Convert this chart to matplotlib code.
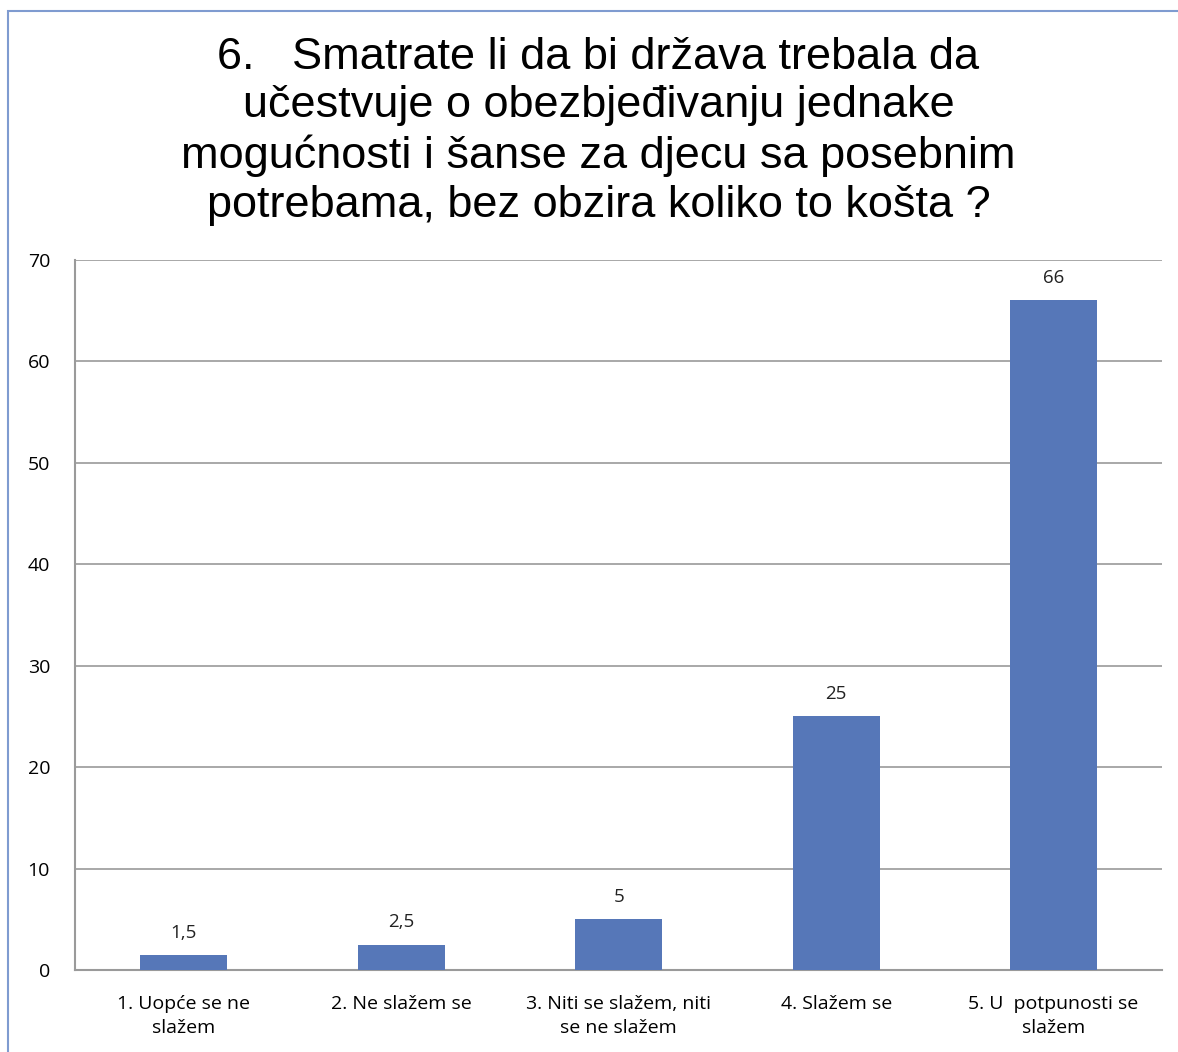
import numpy as np
import matplotlib.pyplot as plt
from matplotlib.patches import Rectangle

# survey answers (percent)
categories = ['1. Uopće se ne\nslažem', '2. Ne slažem se', '3. Niti se slažem, niti\nse ne slažem',
              '4. Slažem se', '5. U  potpunosti se\nslažem']
values = [1.5, 2.5, 5, 25, 66]
value_labels = ['1,5', '2,5', '5', '25', '66']
title = ('6.   Smatrate li da bi država trebala da\nučestvuje o obezbjeđivanju jednake\n'
         'mogućnosti i šanse za djecu sa posebnim\npotrebama, bez obzira koliko to košta ?')

fig = plt.figure(figsize=(11.78, 10.52), dpi=100)
ax = fig.add_axes([0.0637, 0.078, 0.923, 0.675])

x = np.arange(len(values))
ax.bar(x, values, width=0.4, color='#5677B8', zorder=3)
for xi, v, lab in zip(x, values, value_labels):
    ax.text(xi, v + 1.3, lab, ha='center', va='bottom', fontsize=13.5, family='Open Sans', color='#222222')

ax.set_xlim(-0.5, 4.5)
ax.set_ylim(0, 70)
ax.set_yticks(np.arange(0, 71, 10))
ax.set_xticks(x)
ax.set_xticklabels(categories, fontsize=14, family='Open Sans', linespacing=1.45)
ax.tick_params(axis='y', labelsize=14, length=0, pad=18)
ax.tick_params(axis='x', length=0, pad=18)
for lab in ax.get_yticklabels():
    lab.set_family('Open Sans')
ax.yaxis.grid(True, color='#9A9A9A', linewidth=1.2, zorder=0)
for s in ['top', 'right']:
    ax.spines[s].set_visible(False)
for s in ['left', 'bottom']:
    ax.spines[s].set_color('#9A9A9A')
    ax.spines[s].set_linewidth(1.5)

fig.text(0.508, 0.965, title, ha='center', va='top', fontsize=32.5, family='Liberation Sans',
         linespacing=1.24)

# chart frame
fig.patches.append(Rectangle((0.007, -0.01), 1.2, 1.0, transform=fig.transFigure,
                             fill=False, edgecolor='#7F9BD0', linewidth=1.5))

fig.savefig('out.png', dpi=100)
